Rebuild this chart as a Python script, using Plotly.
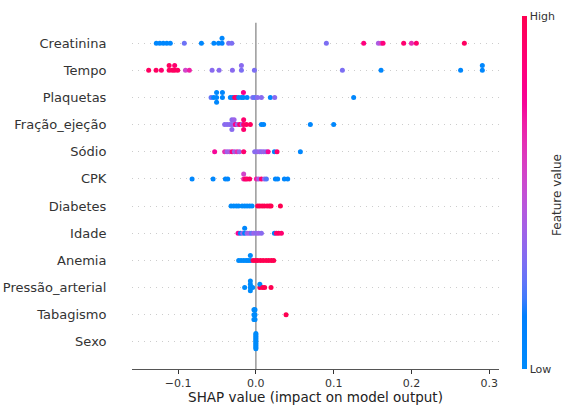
import math
import numpy as np
import plotly.graph_objects as go

# ---------------- data ----------------
features = ["Creatinina", "Tempo", "Plaquetas", "Fração_ejeção", "Sódio", "CPK",
            "Diabetes", "Idade", "Anemia", "Pressão_arterial", "Tabagismo", "Sexo"]

shap_creatinina = [-0.128, -0.1235, -0.119, -0.1145, -0.110, -0.092, -0.070, -0.054, -0.048,
                   -0.0435, -0.0435, -0.035, -0.031, 0.0906, 0.1386, 0.1575, 0.161, 0.1635,
                   0.190, 0.200, 0.2063, 0.268]
feat_creatinina = [0.05, 0.05, 0.05, 0.05, 0.05, 0.27, 0.05, 0.05, 0.05,
                   0.1, 0.05, 0.3, 0.3, 0.3, 0.85, 0.42, 0.55, 0.85,
                   0.9, 0.65, 0.9, 0.95]

shap_tempo = [-0.1378, -0.1283, -0.1215, -0.1115, -0.1115, -0.1075, -0.1044, -0.1044, -0.1005,
              -0.0905, -0.0855, -0.0563, -0.0473, -0.0302, -0.0186, -0.0186, -0.0019,
              0.1112, 0.1609, 0.2632, 0.2911, 0.2911]
feat_tempo = [0.95, 0.95, 0.9, 0.95, 0.95, 0.95, 0.95, 0.9, 0.95,
              0.55, 0.7, 0.33, 0.33, 0.33, 0.3, 0.33, 0.3,
              0.3, 0.05, 0.05, 0.05, 0.05]

shap_plaquetas = [-0.0576, -0.0542, -0.0505, -0.0505, -0.0505, -0.043, -0.043, -0.0328, -0.0298,
                  -0.0272, -0.0251, -0.0221, -0.0186, -0.016, -0.016, -0.0113, -0.0041,
                  -0.0015, 0.0021, 0.0071, 0.0186, 0.0242, 0.1257]
feat_plaquetas = [0.25, 0.05, 0.05, 0.05, 0.05, 0.05, 0.05, 0.05, 0.05,
                  0.95, 0.9, 0.05, 0.05, 0.05, 0.8, 0.05, 0.3,
                  0.25, 0.33, 0.33, 0.05, 0.33, 0.05]

shap_fracao = [-0.0401, -0.037, -0.0337, -0.0308, -0.0308, -0.0308, -0.028, -0.028, -0.0263,
               -0.0238, -0.0208, -0.0177, -0.0157, -0.0157, -0.0157, -0.0122, -0.0071,
               0.0071, 0.0100, 0.070, 0.100]
feat_fracao = [0.33, 0.33, 0.33, 0.33, 0.33, 0.33, 0.38, 0.38, 0.8,
               0.38, 0.9, 0.38, 0.9, 0.9, 0.9, 0.95, 0.95,
               0.05, 0.05, 0.05, 0.05]

shap_sodio = [-0.053, -0.0401, -0.037, -0.034, -0.0306, -0.0276, -0.0242, -0.0212, -0.0157,
              -0.0015, 0.0015, 0.0045, 0.0071, 0.0100, 0.0131, 0.0157, 0.0238, 0.0272, 0.0572]
feat_sodio = [0.75, 0.65, 0.38, 0.42, 0.85, 0.38, 0.65, 0.38, 0.9,
              0.33, 0.33, 0.38, 0.33, 0.38, 0.33, 0.75, 0.05, 0.9, 0.05]

shap_cpk = [-0.082, -0.055, -0.0392, -0.0362, -0.0157, -0.0157, -0.0135, -0.0113, -0.008,
            0.0006, 0.0036, 0.0071, 0.0109, 0.0135, 0.0251, 0.028, 0.0366, 0.0409]
feat_cpk = [0.05, 0.05, 0.05, 0.05, 0.7, 0.55, 0.95, 0.9, 0.95,
            0.7, 0.42, 0.9, 0.38, 0.22, 0.05, 0.05, 0.05, 0.05]

shap_diabetes = [-0.0319, -0.0285, -0.0251, -0.0221, -0.0177, -0.0144, -0.0113, -0.008, -0.0049,
                 0.0023, 0.0049, 0.008, 0.0109, 0.0144, 0.0174, 0.0195, 0.0315]
feat_diabetes = [0.0, 0.0, 0.0, 0.0, 0.0, 0.0, 0.0, 0.0, 0.0,
                 1.0, 1.0, 1.0, 1.0, 1.0, 1.0, 1.0, 1.0]

shap_idade = [-0.0229, -0.0199, -0.017, -0.0144, -0.0144, -0.0113, -0.0084, -0.0058, -0.0028,
              0.0003, 0.0036, 0.0071, 0.0238, 0.0263, 0.0293, 0.0328]
feat_idade = [0.75, 0.1, 0.38, 0.1, 0.05, 0.38, 0.42, 0.25, 0.38,
              0.33, 0.38, 0.33, 0.05, 0.9, 0.95, 0.9]

shap_anemia = [-0.0221, -0.019, -0.0157, -0.0126, -0.010, -0.0071, -0.0071,
               -0.0036, -0.0006, 0.0023, 0.0058, 0.0093, 0.0131, 0.0165, 0.0199, 0.0229]
feat_anemia = [0.0, 0.0, 0.0, 0.0, 0.0, 0.0, 0.0,
               1.0, 1.0, 1.0, 1.0, 1.0, 1.0, 1.0, 1.0, 1.0]

shap_pressao = [-0.0144, -0.0071, -0.0071, -0.0071, -0.0071, -0.0041, 0.0051, 0.0051,
                0.0087, 0.0113, 0.0195]
feat_pressao = [0.0, 0.0, 0.0, 0.0, 0.0, 0.0, 1.0, 0.0,
                1.0, 1.0, 1.0]

shap_tabagismo = [-0.0025, -0.0025, -0.0025, -0.0018, -0.0018, -0.0018, -0.0011, -0.0011,
                  -0.0011, 0.0388]
feat_tabagismo = [0.0, 0.0, 0.0, 0.0, 0.0, 0.0, 0.0, 0.0, 0.0, 1.0]

shap_sexo = [0.0] * 12
feat_sexo = [0.0] * 12

x_tick_vals = [-0.1, 0.0, 0.1, 0.2, 0.3]
x_tick_text = ["\u22120.1", "0.0", "0.1", "0.2", "0.3"]

rows = {
    "Creatinina": (shap_creatinina, feat_creatinina),
    "Tempo": (shap_tempo, feat_tempo),
    "Plaquetas": (shap_plaquetas, feat_plaquetas),
    "Fração_ejeção": (shap_fracao, feat_fracao),
    "Sódio": (shap_sodio, feat_sodio),
    "CPK": (shap_cpk, feat_cpk),
    "Diabetes": (shap_diabetes, feat_diabetes),
    "Idade": (shap_idade, feat_idade),
    "Anemia": (shap_anemia, feat_anemia),
    "Pressão_arterial": (shap_pressao, feat_pressao),
    "Tabagismo": (shap_tabagismo, feat_tabagismo),
    "Sexo": (shap_sexo, feat_sexo),
}


# ---------------- SHAP red-blue colormap (LCH interpolation) ----------------
def lch_to_rgb(L, C, H):
    a = C * math.cos(H)
    b = C * math.sin(H)
    fy = (L + 16) / 116
    fx = fy + a / 500
    fz = fy - b / 200

    def finv(t):
        return t ** 3 if t ** 3 > 0.008856 else (t - 16 / 116) / 7.787

    X = 0.95047 * finv(fx)
    Y = finv(fy)
    Z = 1.08883 * finv(fz)
    r = 3.2404542 * X - 1.5371385 * Y - 0.4985314 * Z
    g = -0.9692660 * X + 1.8760108 * Y + 0.0415560 * Z
    bb = 0.0556434 * X - 0.2040259 * Y + 1.0572252 * Z

    def gam(v):
        v = 1.055 * v ** (1 / 2.4) - 0.055 if v > 0.0031308 else 12.92 * v
        return int(round(min(max(v, 0.0), 1.0) * 255))

    return "rgb(%d,%d,%d)" % (gam(r), gam(g), gam(bb))


blue_lch = (54.0, 70.0, 4.6588)
red_lch = (54.0, 90.0, 0.35470565 + 2 * math.pi)
colorscale = []
for t in np.linspace(0, 1, 21):
    L = blue_lch[0] * (1 - t) + red_lch[0] * t
    C = blue_lch[1] * (1 - t) + red_lch[1] * t
    H = blue_lch[2] * (1 - t) + red_lch[2] * t
    colorscale.append([float(t), lch_to_rgb(L, C, H)])


# ---------------- beeswarm offsets (as in shap.summary_plot) ----------------
def swarm(vals, row_height=0.4, nbins=100):
    v = np.asarray(vals, dtype=float)
    quant = np.round(nbins * (v - v.min()) / (v.max() - v.min() + 1e-8))
    inds = np.argsort(quant, kind="stable")
    layer = 0
    last_bin = -1
    ys = np.zeros(len(v))
    for ind in inds:
        if quant[ind] != last_bin:
            layer = 0
        ys[ind] = math.ceil(layer / 2) * ((layer % 2) * 2 - 1)
        layer += 1
        last_bin = quant[ind]
    ys *= 0.9 * (row_height / np.max(ys + 1))
    return ys


n = len(features)
fig = go.Figure()
allvals = []
order = list(reversed(features))  # Sexo at y=0 ... Creatinina at y=n-1
for pos, name in enumerate(order):
    sv, fv = rows[name]
    allvals.extend(sv)
    ys = swarm(sv) + pos
    fig.add_trace(go.Scatter(
        x=sv, y=ys, mode="markers",
        marker=dict(size=5, color=fv, colorscale=colorscale, cmin=0, cmax=1,
                    line=dict(width=0),
                    showscale=(pos == n - 1),
                    colorbar=dict(
                        thickness=5, thicknessmode="pixels",
                        len=1, lenmode="fraction", y=0.5, yanchor="middle", ypad=0,
                        x=(522 - 132) / 367, xanchor="left", xpad=0,
                        outlinewidth=0, tickvals=[0, 1], ticktext=["Low", "High"],
                        ticks="", tickfont=dict(size=11, color="#333333"),
                    )),
        showlegend=False, hoverinfo="x",
    ))

vmin, vmax = min(allvals), max(allvals)
pad = 0.05 * (vmax - vmin)

fig.add_shape(type="line", xref="x", yref="y", x0=0, x1=0, y0=-1, y1=n - 0.25,
              line=dict(color="#999999", width=1.5), layer="below")

fig.add_annotation(text="Feature value", xref="paper", yref="paper",
                   x=(557 - 132) / 367, y=(369 - 195) / 353, textangle=-90,
                   showarrow=False, xanchor="center", yanchor="middle",
                   font=dict(size=12, color="#333333"))

fig.update_layout(
    width=564, height=405,
    margin=dict(l=132, r=65, t=16, b=36),
    template="none",
    paper_bgcolor="white", plot_bgcolor="white",
    font=dict(family="DejaVu Sans", color="#333333"),
    xaxis=dict(range=[vmin - pad, vmax + pad], tickvals=x_tick_vals, ticktext=x_tick_text,
               ticks="outside", ticklen=3.5, tickwidth=0.8, tickcolor="#333333",
               tickfont=dict(size=11, color="#333333"),
               showline=True, linecolor="#555555", linewidth=1,
               showgrid=False, zeroline=False,
               title=dict(text="SHAP value (impact on model output)",
                          font=dict(size=13.5, color="#222222"), standoff=4)),
    yaxis=dict(range=[-1, n], tickvals=list(range(n)), ticktext=order,
               ticks="outside", ticklen=22, tickcolor="rgba(0,0,0,0)",
               tickfont=dict(size=13, color="#333333"),
               showline=False, zeroline=False,
               showgrid=True, gridcolor="#cccccc", gridwidth=1, griddash="1px,5px"),
)

fig.write_html("out.html")
